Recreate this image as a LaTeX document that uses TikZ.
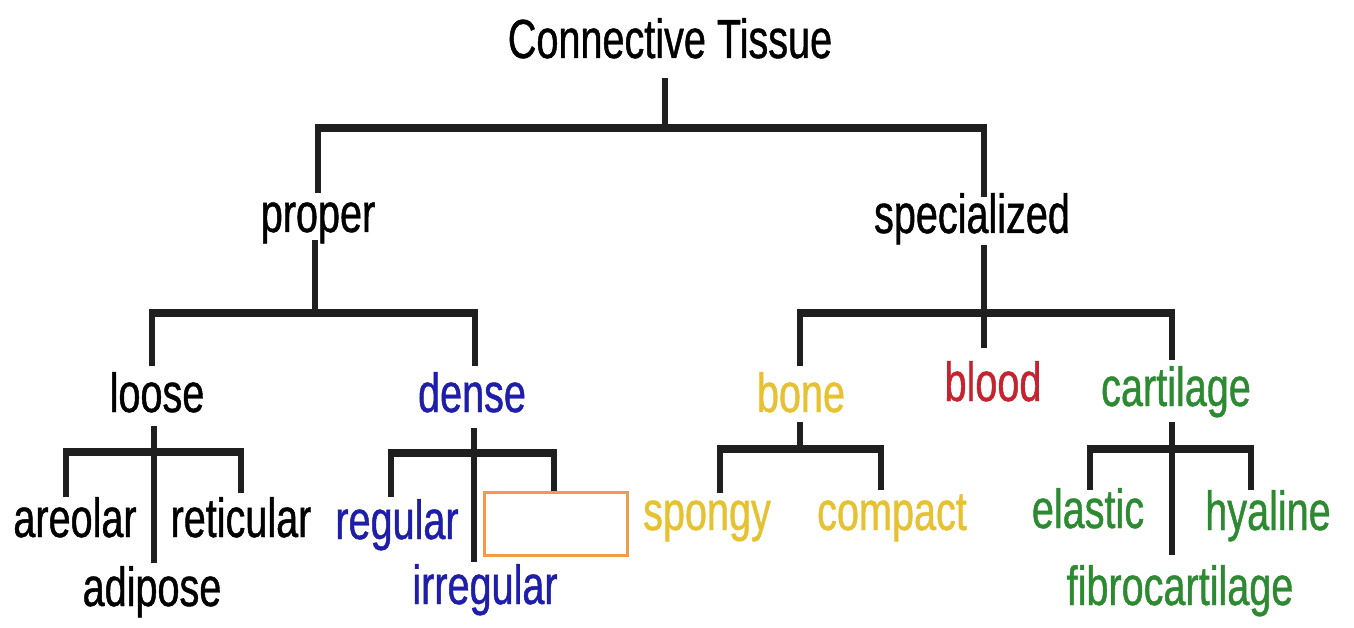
\documentclass[tikz,border=0pt]{standalone}
\usepackage{fontspec}
\setmainfont[FakeStretch=0.72,FakeBold=0.8]{Liberation Sans}
\definecolor{tblue}{HTML}{1E1EA8}
\definecolor{tyellow}{HTML}{E6C232}
\definecolor{tred}{HTML}{C42430}
\definecolor{tgreen}{HTML}{2E8A32}
\definecolor{torange}{HTML}{F39A4A}
\begin{document}
\begin{tikzpicture}[x=1pt,y=-1pt,
  lbl/.style={anchor=base,inner sep=0pt,font=\fontsize{55}{60}\selectfont},
  stem/.style={line width=5.5pt,draw=black!88},
  bar/.style={line width=8.5pt,draw=black!88},
  blank/.style={draw=torange,line width=3.5pt,fill=white}]
\useasboundingbox (0,0) rectangle (1354,628);
% labels
\node[lbl] (ct) at (670,58) {Connective Tissue};
\node[lbl] (proper) at (318,232) {proper};
\node[lbl] (spec) at (972,233) {specialized};
\node[lbl] (loose) at (157,412) {loose};
\node[lbl,text=tblue] (dense) at (472,412) {dense};
\node[lbl,text=tyellow] (bone) at (801,412) {bone};
\node[lbl,text=tred] (blood) at (993,401) {blood};
\node[lbl,text=tgreen] (cart) at (1176,406) {cartilage};
\node[lbl] (areolar) at (75,537) {areolar};
\node[lbl] (retic) at (241,537) {reticular};
\node[lbl] (adipose) at (152,606) {adipose};
\node[lbl,text=tblue] (regular) at (397,539) {regular};
\node[lbl,text=tblue] (irregular) at (485,604) {irregular};
\node[lbl,text=tyellow] (spongy) at (707,530) {spongy};
\node[lbl,text=tyellow] (compact) at (892,530) {compact};
\node[lbl,text=tgreen] (elastic) at (1088,528) {elastic};
\node[lbl,text=tgreen] (hyaline) at (1268,530) {hyaline};
\node[lbl,text=tgreen] (fibro) at (1180,605) {fibrocartilage};
% level 1
\coordinate (ctS) at (665,78);
\coordinate (j1) at (665,128);
\coordinate (j1L) at (318,128);
\coordinate (j1R) at (984,128);
\coordinate (properT) at (318,193);
\coordinate (specT) at (984,197);
\draw[stem] (ctS) -- (j1);
\draw[stem] (j1L) -- (properT);
\draw[stem] (j1R) -- (specT);
\draw[bar] ([xshift=-2.75pt]j1L) -- ([xshift=2.75pt]j1R);
% proper
\coordinate (properB) at (315,240);
\coordinate (j2) at (315,313);
\coordinate (j2L) at (152,313);
\coordinate (j2R) at (475,313);
\coordinate (looseT) at (152,366);
\coordinate (denseT) at (475,366);
\draw[stem] (properB) -- (j2);
\draw[stem] (j2L) -- (looseT);
\draw[stem] (j2R) -- (denseT);
\draw[bar] ([xshift=-2.75pt]j2L) -- ([xshift=2.75pt]j2R);
% specialized
\coordinate (specB) at (984,245);
\coordinate (j3) at (984,313);
\coordinate (j3L) at (800,313);
\coordinate (j3R) at (1172,313);
\coordinate (boneT) at (800,366);
\coordinate (bloodT) at (984,348);
\coordinate (cartT) at (1172,360);
\draw[stem] (specB) -- (bloodT);
\draw[stem] (j3L) -- (boneT);
\draw[stem] (j3R) -- (cartT);
\draw[bar] ([xshift=-2.75pt]j3L) -- ([xshift=2.75pt]j3R);
% loose
\coordinate (looseB) at (154,426);
\coordinate (j4L) at (66,452);
\coordinate (j4R) at (241,452);
\coordinate (areolarT) at (66,497);
\coordinate (reticT) at (241,493);
\coordinate (adiposeT) at (154,563);
\draw[stem] (looseB) -- (adiposeT);
\draw[stem] (j4L) -- (areolarT);
\draw[stem] (j4R) -- (reticT);
\draw[bar] ([xshift=-2.75pt]j4L) -- ([xshift=2.75pt]j4R);
% dense
\coordinate (denseB) at (474,428);
\coordinate (j5L) at (391,453);
\coordinate (j5R) at (554,453);
\coordinate (regularT) at (391,497);
\coordinate (blankT) at (554,493);
\coordinate (irregularT) at (474,562);
\draw[stem] (denseB) -- (irregularT);
\draw[stem] (j5L) -- (regularT);
\draw[stem] (j5R) -- (blankT);
\draw[bar] ([xshift=-2.75pt]j5L) -- ([xshift=2.75pt]j5R);
\node[blank,minimum width=143pt,minimum height=63pt,inner sep=0pt] (blankbox) at (556,524) {};
% bone
\coordinate (boneB) at (800,422);
\coordinate (j6) at (800,449);
\coordinate (j6L) at (720,449);
\coordinate (j6R) at (881,449);
\coordinate (spongyT) at (720,493);
\coordinate (compactT) at (881,490);
\draw[stem] (boneB) -- (j6);
\draw[stem] (j6L) -- (spongyT);
\draw[stem] (j6R) -- (compactT);
\draw[bar] ([xshift=-2.75pt]j6L) -- ([xshift=2.75pt]j6R);
% cartilage
\coordinate (cartB) at (1172,422);
\coordinate (j7L) at (1090,449);
\coordinate (j7R) at (1251,449);
\coordinate (elasticT) at (1090,490);
\coordinate (hyalineT) at (1251,490);
\coordinate (fibroT) at (1172,555);
\draw[stem] (cartB) -- (fibroT);
\draw[stem] (j7L) -- (elasticT);
\draw[stem] (j7R) -- (hyalineT);
\draw[bar] ([xshift=-2.75pt]j7L) -- ([xshift=2.75pt]j7R);
\end{tikzpicture}
\end{document}
